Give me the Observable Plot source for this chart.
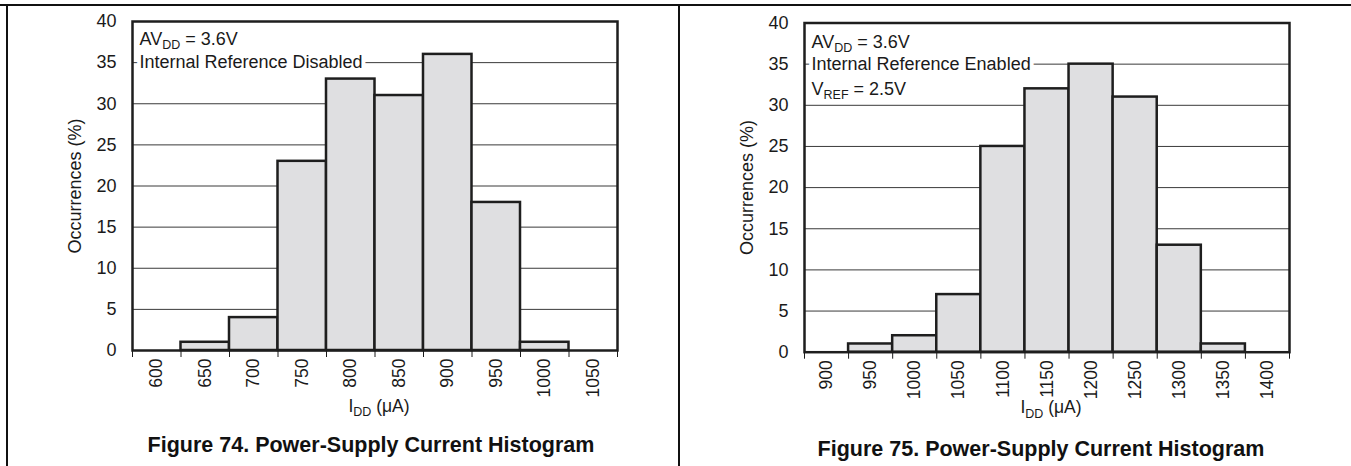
<!DOCTYPE html>
<html><head><meta charset="utf-8">
<script src="https://cdn.jsdelivr.net/npm/d3@7"></script>
<script src="https://cdn.jsdelivr.net/npm/@observablehq/plot@0.6"></script>
<style>
body{margin:0;background:#fff;font-family:"Liberation Sans",Arial,sans-serif;}
#page{position:relative;width:1351px;height:466px;overflow:hidden;background:#fff;}
.chart{position:absolute;top:0;}
.rule{position:absolute;background:#111;}
.cap{position:absolute;font-weight:bold;font-size:21.5px;color:#111;white-space:nowrap;transform:translate(-50%,-50%);}
</style></head><body>
<div id="page">
  <div id="c1" class="chart" style="left:0"></div>
  <div id="c2" class="chart" style="left:679px"></div>
  <div class="rule" style="left:0;top:4px;width:1351px;height:1.5px"></div>
  <div class="rule" style="left:6px;top:4px;width:1.5px;height:462px"></div>
  <div class="rule" style="left:678px;top:4px;width:1.5px;height:462px"></div>
  <div id="cap1" class="cap" style="left:371px;top:445px"></div>
  <div id="cap2" class="cap" style="left:1041px;top:449px"></div>
</div>
<script>
// ---- data ----
const fig74Bins = [600, 650, 700, 750, 800, 850, 900, 950, 1000, 1050];
const fig74Pct  = [0, 1, 4, 23, 33, 31, 36, 18, 1, 0];
const fig75Bins = [900, 950, 1000, 1050, 1100, 1150, 1200, 1250, 1300, 1350, 1400];
const fig75Pct  = [0, 1, 2, 7, 25, 32, 35, 31, 13, 1, 0];
const yTicks = [0, 5, 10, 15, 20, 25, 30, 35, 40];
const gridTicks = [5, 10, 15, 20, 25, 30, 35];
const fig74Notes = ["AV_{DD} = 3.6V", "Internal Reference Disabled"];
const fig74NoteY = [37.85, 35];
const fig75Notes = ["AV_{DD} = 3.6V", "Internal Reference Enabled", "V_{REF} = 2.5V"];
const fig75NoteY = [37.7, 35, 32.0];
const xTitle = "I_{DD} (μA)";
const yTitle = "Occurrences (%)";
const fig74Caption = "Figure 74. Power-Supply Current Histogram";
const fig75Caption = "Figure 75. Power-Supply Current Histogram";
const binWidth = 50;

const FONT = '"Liberation Sans", Arial, Helvetica, sans-serif';
const INK = "#1a1a1a";

function applySubs(svg) {
  d3.select(svg).selectAll("text").each(function () {
    const t = this.textContent;
    if (!t.includes("_{")) return;
    const parts = t.split(/(_\{[^}]*\})/);
    this.textContent = "";
    let shifted = false;
    for (const p of parts) {
      if (!p) continue;
      const ts = d3.select(this).append("tspan");
      if (p.startsWith("_{")) {
        ts.text(p.slice(2, -1)).attr("font-size", "12.5px").attr("dy", 4.5);
        shifted = true;
      } else {
        ts.text(p);
        if (shifted) { ts.attr("dy", -4.5); shifted = false; }
      }
    }
  });
}

function histogram({bins, pct, notes, noteY, width, height, margins}) {
  const data = bins.map((b, i) => ({b, v: pct[i]}));
  const edges = bins.map(b => b - binWidth / 2).concat([bins[bins.length - 1] + binWidth / 2]);
  const svg = Plot.plot({
    width, height, ...margins,
    style: {fontFamily: FONT, fontSize: "18px", color: INK, background: "transparent", overflow: "visible"},
    x: {domain: [edges[0], edges[edges.length - 1]]},
    y: {domain: [0, 40]},
    marks: [
      Plot.gridY(gridTicks, {stroke: "#3a3a3a", strokeOpacity: 1, strokeWidth: 1}),
      Plot.rectY(data, {x1: d => d.b - binWidth / 2, x2: d => d.b + binWidth / 2, y: "v",
        fill: "#dfdfe1", stroke: "#1e1e1e", strokeWidth: 2.5}),
      Plot.text(notes, {text: d => d, y: (d, i) => noteY[i], frameAnchor: "left", textAnchor: "start",
        dx: 7, fontSize: 18, fill: INK, stroke: "white", strokeWidth: 8}),
      Plot.frame({stroke: "#1e1e1e", strokeWidth: 2.5}),
      Plot.axisY(yTicks, {tickSize: 0, tickPadding: 16, fontSize: 18, label: yTitle,
        labelAnchor: "center", labelArrow: "none", labelOffset: 64}),
      Plot.axisX(edges, {tickSize: 7, tickFormat: () => "", label: null}),
      Plot.axisX(bins, {tickSize: 0, tickPadding: 8, tickRotate: -90, fontSize: 17.5, label: null,
        tickFormat: d => String(d)}),
      Plot.text([xTitle], {text: d => d, frameAnchor: "bottom", dy: 61, dx: 4, fontSize: 17.5, fill: INK})
    ]
  });
  applySubs(svg);
  return svg;
}

document.getElementById("c1").appendChild(histogram({
  bins: fig74Bins, pct: fig74Pct, notes: fig74Notes, noteY: fig74NoteY,
  width: 679, height: 466,
  margins: {marginLeft: 132, marginRight: 62, marginTop: 21, marginBottom: 116}
}));
document.getElementById("c2").appendChild(histogram({
  bins: fig75Bins, pct: fig75Pct, notes: fig75Notes, noteY: fig75NoteY,
  width: 672, height: 466,
  margins: {marginLeft: 125, marginRight: 62, marginTop: 22.5, marginBottom: 114.3}
}));
document.getElementById("cap1").textContent = fig74Caption;
document.getElementById("cap2").textContent = fig75Caption;
</script>
</body></html>
